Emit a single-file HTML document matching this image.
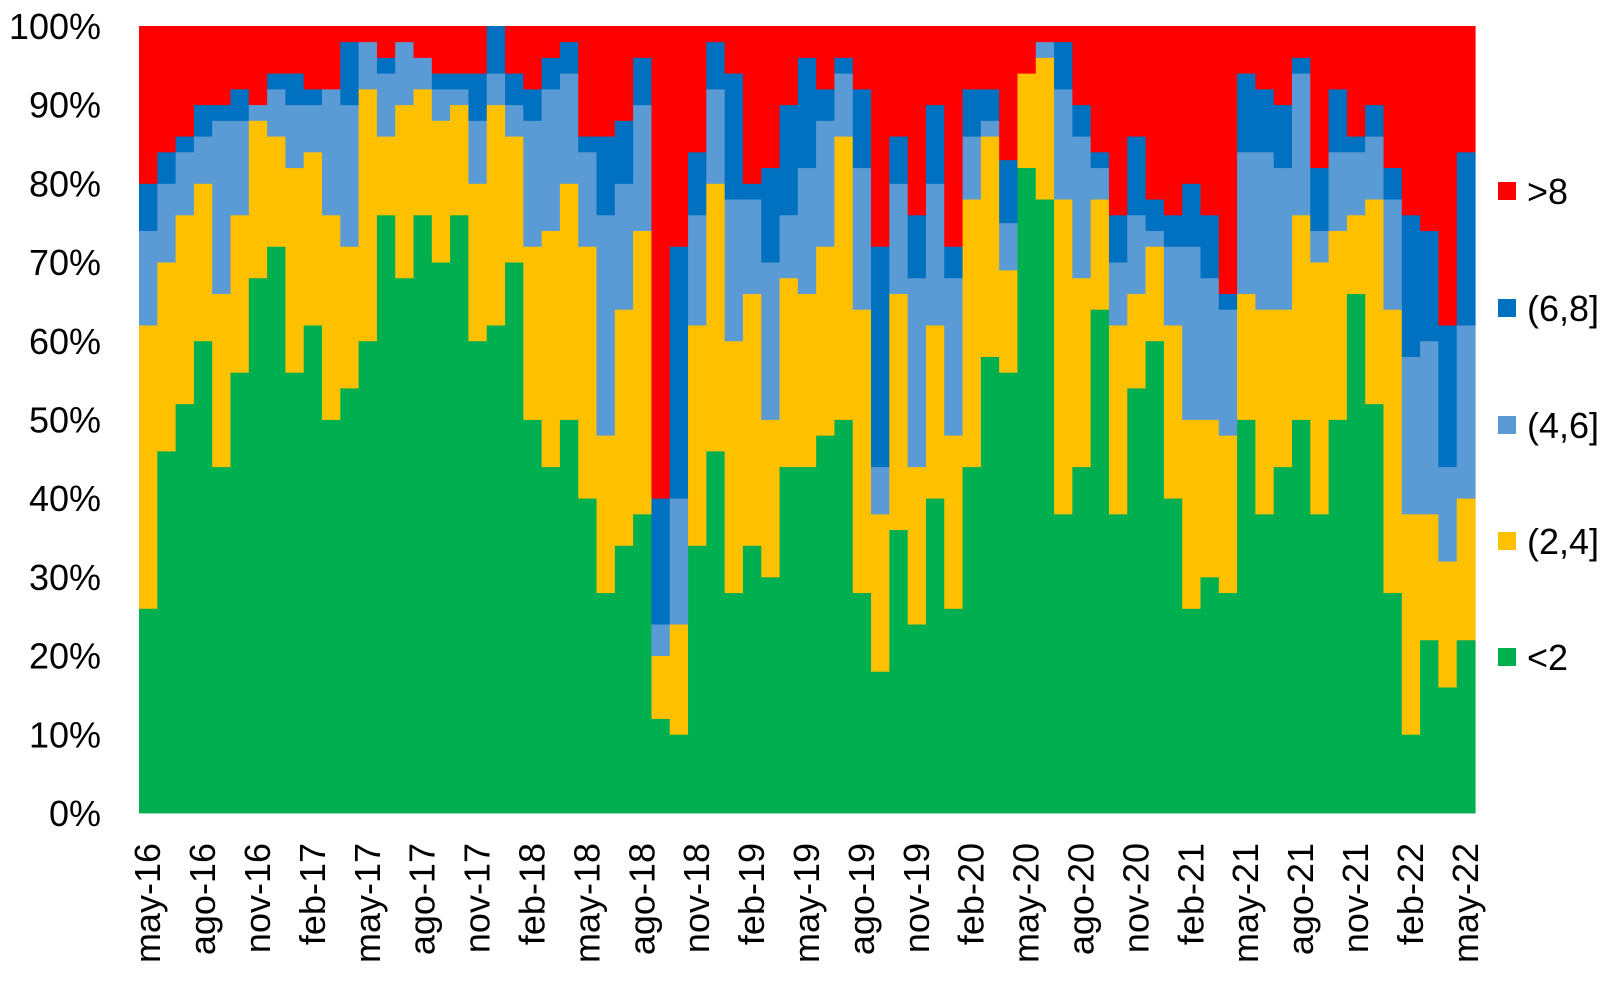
<!DOCTYPE html>
<html><head><meta charset="utf-8"><style>
html,body{margin:0;padding:0;background:#fff}
svg text{font-family:"Liberation Sans",sans-serif;fill:#000}
</style></head><body>
<svg id="chart" width="1620" height="995" xmlns="http://www.w3.org/2000/svg">
<g id="plot"></g>
<g id="yaxis"></g>
<g id="xaxis"></g>
<g id="legend"></g>
</svg>
<script>
const startYear = 16, startMonth = 4; // may-16
const monthNames = ["ene","feb","mar","abr","may","jun","jul","ago","sep","oct","nov","dic"];
const lt2 = [26,46,52,60,44,56,68,72,56,62,50,54,60,76,68,76,70,76,60,62,70,50,44,50,40,28,34,38,12,10,34,46,28,34,30,44,44,48,50,28,18,36,24,40,26,44,58,56,82,78,38,44,64,38,54,60,40,26,30,28,50,38,44,50,38,50,66,52,28,10,22,16,22];
const r2to4 = [36,24,24,20,22,20,20,14,26,22,26,18,32,10,22,16,18,14,20,28,16,22,30,30,32,20,30,36,8,14,28,34,32,32,20,24,22,24,36,36,20,30,20,22,22,34,28,13,12,18,40,24,14,24,12,12,22,24,20,20,16,26,20,26,32,24,10,26,36,28,16,16,18];
const r4to6 = [12,10,8,6,22,12,2,6,8,6,16,18,6,8,8,4,4,2,8,4,4,16,18,14,12,28,16,16,4,16,14,12,18,12,20,8,16,16,8,18,6,14,24,18,20,8,2,6,0,2,14,18,4,8,10,2,10,22,18,16,18,20,18,18,4,10,8,8,14,20,22,12,22];
const r6to8 = [6,4,2,4,2,4,0,2,4,2,0,8,0,2,0,0,2,2,6,6,4,4,4,4,2,10,8,6,16,32,8,6,16,2,12,14,14,4,2,10,28,6,8,10,4,6,4,8,0,0,6,4,2,6,10,4,4,8,8,2,10,8,8,2,8,8,2,4,4,18,14,18,22];
const gt8 = [20,16,14,10,10,8,10,6,6,8,8,2,2,4,2,4,6,6,6,0,6,8,4,2,14,14,12,4,60,28,16,2,6,20,18,10,4,8,4,8,28,14,24,10,28,8,8,17,6,2,2,10,16,24,14,22,24,20,24,34,6,8,10,4,18,8,14,10,18,24,26,38,16];
const yTicks = [0,10,20,30,40,50,60,70,80,90,100];
const legendLabels = [">8","(6,8]","(4,6]","(2,4]","<2"];

const series = [lt2, r2to4, r4to6, r6to8, gt8];
const colors = ["#00B050","#FFC000","#5B9BD5","#0070C0","#FF0000"];
const seriesNames = ["lt2","2to4","4to6","6to8","gt8"];
const NS = "http://www.w3.org/2000/svg";
const X0 = 139, X1 = 1475, Y0 = 813, Y1 = 26;
const n = lt2.length;
const colW = (X1 - X0) / n;
const xs = i => X0 + i * colW;
const ys = v => Y0 - (Y0 - Y1) * v / 100;

const plot = document.getElementById("plot");
for (let i = 0; i < n; i++) {
  let cum = 0;
  for (let s = 0; s < series.length; s++) {
    const v = series[s][i];
    if (v <= 0) { continue; }
    const r = document.createElementNS(NS, "rect");
    r.setAttribute("x", xs(i));
    r.setAttribute("width", colW + 0.6);
    r.setAttribute("y", ys(cum + v));
    r.setAttribute("height", ys(cum) - ys(cum + v) + 0.4);
    r.setAttribute("fill", colors[s]);
    
    
    plot.appendChild(r);
    cum += v;
  }
}

const yaxis = document.getElementById("yaxis");
yTicks.forEach(t => {
  const tx = document.createElementNS(NS, "text");
  tx.setAttribute("x", 101);
  tx.setAttribute("y", ys(t) + 13);
  tx.setAttribute("text-anchor", "end");
  tx.setAttribute("font-size", "36");
  tx.textContent = t + "%";
  
  
  yaxis.appendChild(tx);
});

const xaxis = document.getElementById("xaxis");
for (let i = 0; i < n; i += 3) {
  const m = (startMonth + i) % 12;
  const yr = startYear + Math.floor((startMonth + i) / 12);
  const cx = xs(i) + colW / 2 + 12;
  const ty = 843;
  const tx = document.createElementNS(NS, "text");
  tx.setAttribute("x", cx);
  tx.setAttribute("y", ty);
  tx.setAttribute("text-anchor", "end");
  tx.setAttribute("font-size", "36");
  tx.setAttribute("transform", "rotate(-90 " + cx + " " + ty + ")");
  tx.textContent = monthNames[m] + "-" + yr;
  
  
  xaxis.appendChild(tx);
}

const legend = document.getElementById("legend");
const legendColors = ["#FF0000","#0070C0","#5B9BD5","#FFC000","#00B050"];
const legendY = [191, 308, 425, 541, 657];
legendLabels.forEach((lab, k) => {
  const sq = document.createElementNS(NS, "rect");
  sq.setAttribute("x", 1498);
  sq.setAttribute("y", legendY[k] - 9);
  sq.setAttribute("width", 18);
  sq.setAttribute("height", 18);
  sq.setAttribute("fill", legendColors[k]);
  
  
  legend.appendChild(sq);
  const tx = document.createElementNS(NS, "text");
  tx.setAttribute("x", 1527);
  tx.setAttribute("y", legendY[k] + 13);
  tx.setAttribute("font-size", "36");
  tx.textContent = lab;
  
  
  legend.appendChild(tx);
});
</script>
</body></html>
